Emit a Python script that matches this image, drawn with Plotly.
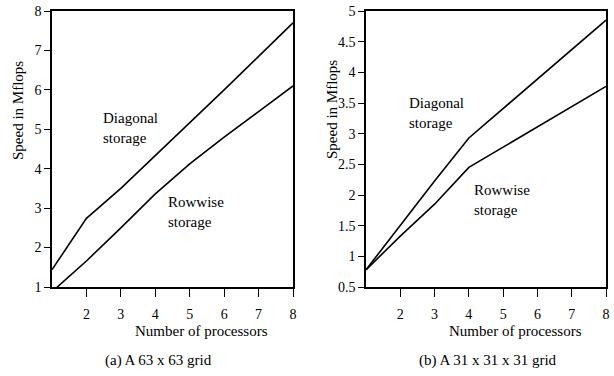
import plotly.graph_objects as go

# ---- data ----
processors = [1, 2, 3, 4, 5, 6, 7, 8]
# (a) 63 x 63 grid
diag_a = [1.44, 2.74, 3.50, 4.33, 5.17, 6.00, 6.85, 7.70]
row_a = [0.88, 1.66, 2.50, 3.36, 4.12, 4.80, 5.45, 6.10]
# (b) 31 x 31 x 31 grid
diag_b = [0.78, 1.51, 2.23, 2.93, 3.41, 3.89, 4.37, 4.85]
row_b = [0.78, 1.33, 1.85, 2.45, 2.78, 3.11, 3.44, 3.77]

x_ticks = [2, 3, 4, 5, 6, 7, 8]
y_ticks_a = [1, 2, 3, 4, 5, 6, 7, 8]
y_ticks_b = [0.5, 1, 1.5, 2, 2.5, 3, 3.5, 4, 4.5, 5]
y_ticktext_b = ["0.5", "1", "1.5", "2", "2.5", "3", "3.5", "4", "4.5", "5"]

W, H = 614, 376
FONT = "Liberation Serif, Times New Roman, Times, serif"


def px(x):
    return x / W


def py(y):
    return 1 - y / H


fig = go.Figure()
line = dict(color="black", width=1.6)
fig.add_trace(go.Scatter(x=processors, y=diag_a, mode="lines", line=line, xaxis="x", yaxis="y"))
fig.add_trace(go.Scatter(x=processors, y=row_a, mode="lines", line=line, xaxis="x", yaxis="y"))
fig.add_trace(go.Scatter(x=processors, y=diag_b, mode="lines", line=line, xaxis="x2", yaxis="y2"))
fig.add_trace(go.Scatter(x=processors, y=row_b, mode="lines", line=line, xaxis="x2", yaxis="y2"))

ydom = [py(287), py(11)]
xdom_a = [px(52), px(293)]
xdom_b = [px(366), px(606)]

tickfont = dict(family=FONT, size=14, color="black")
common = dict(showgrid=False, zeroline=False, showline=True, linecolor="black",
              linewidth=1.5, tickcolor="black", tickwidth=1.3, tickfont=tickfont,
              automargin=False, ticklabeloverflow="allow")
overlay = dict(showticklabels=False, showgrid=False, zeroline=False, showline=False,
               tickcolor="black", tickwidth=1.3, ticks="inside", ticklen=9, automargin=False)

fig.update_layout(
    template="none",
    width=W, height=H,
    margin=dict(l=0, r=0, t=0, b=0, autoexpand=False),
    paper_bgcolor="white", plot_bgcolor="white",
    showlegend=False,
    xaxis=dict(domain=xdom_a, range=[1, 8], tickvals=x_ticks, ticks="outside", ticklen=8,
               mirror=True, anchor="y", ticklabelstandoff=5, **common),
    yaxis=dict(domain=ydom, range=[1, 8], tickvals=y_ticks_a, ticks="outside", ticklen=6,
               mirror=True, anchor="x", **common),
    xaxis2=dict(domain=xdom_b, range=[1, 8], tickvals=x_ticks, ticks="outside", ticklen=8,
                mirror=True, anchor="y2", ticklabelstandoff=5, **common),
    yaxis2=dict(domain=ydom, range=[0.5, 5], tickvals=y_ticks_b, ticktext=y_ticktext_b,
                ticks="outside", ticklen=6, mirror=True, anchor="x2", **common),
    # overlay axes drawing the inner half of the crossing tick marks
    xaxis3=dict(overlaying="x", anchor="y", range=[1, 8], tickvals=x_ticks, side="bottom", **overlay),
    yaxis3=dict(overlaying="y", anchor="x", range=[1, 8], tickvals=y_ticks_a, side="left", **overlay),
    xaxis4=dict(overlaying="x2", anchor="y2", range=[1, 8], tickvals=x_ticks, side="bottom", **overlay),
    yaxis4=dict(overlaying="y2", anchor="x2", range=[0.5, 5], tickvals=y_ticks_b, side="left", **overlay),
)

tfont = dict(family=FONT, size=15, color="black")


def note(text, x, y, xanchor="center", yanchor="middle", angle=0, font=tfont, align="left"):
    fig.add_annotation(text=text, x=px(x), y=py(y), xref="paper", yref="paper",
                       xanchor=xanchor, yanchor=yanchor, showarrow=False, textangle=angle,
                       font=font, align=align)


note("Number of processors", 201, 331)
note("Number of processors", 515, 331)
note("Speed in Mflops", 18, 111, angle=-90)
note("Speed in Mflops", 332, 110, angle=-90)
note("(a) A 63 x 63 grid", 158, 360)
note("(b) A 31 x 31 x 31 grid", 488, 360)
note("Diagonal<br>storage", 101, 128, xanchor="left")
note("Rowwise<br>storage", 166, 212, xanchor="left")
note("Diagonal<br>storage", 407, 113, xanchor="left")
note("Rowwise<br>storage", 472, 200, xanchor="left")

# remove the browser's default 8px page margin so the figure fills the window exactly
fig.write_html("out.html", config={"displayModeBar": False},
               post_script="document.body.style.margin='0';")
